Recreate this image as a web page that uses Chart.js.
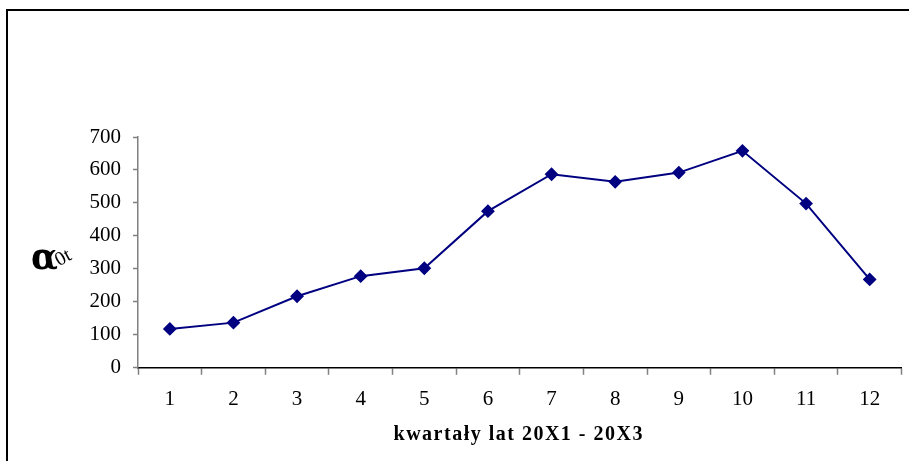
<!DOCTYPE html>
<html>
<head>
<meta charset="utf-8">
<script src="https://cdn.jsdelivr.net/npm/chart.js@4.4.1/dist/chart.umd.min.js"></script>
<style>
  html, body { margin: 0; padding: 0; background: #fff; }
  #wrap { position: relative; width: 909px; height: 461px; overflow: hidden; }
  #frame { position: absolute; left: 6px; top: 9px; width: 920px; height: 470px; border-left: 2px solid #000; border-top: 2px solid #000; }
  canvas { position: absolute; left: 0; top: 0; }
</style>
</head>
<body>
<div id="wrap">
  <div id="frame"></div>
  <canvas id="chart" width="909" height="461"></canvas>
</div>
<script>
// quarters and alpha values
const quarters = ['1','2','3','4','5','6','7','8','9','10','11','12'];
const alphaValues = [118, 137, 217, 278, 302, 475, 587, 564, 592, 658, 498, 268];
const yTicks = [0, 100, 200, 300, 400, 500, 600, 700];
const xTitle = 'kwartały lat 20X1 - 20X3';

const serif = '"Liberation Serif", "Times New Roman", serif';

// axis titles: alpha with subscript 0t, and the spaced-out x title
const axisTitles = {
    id: 'axisTitles',
    afterDraw(chart) {
        const ctx = chart.ctx;
        const y = chart.scales.y;
        const x = chart.scales.x;
        const cy = (y.top + y.bottom) / 2;
        ctx.save();
        ctx.fillStyle = '#000';
        ctx.textBaseline = 'alphabetic';
        ctx.font = 'bold 35px "DejaVu Serif", serif';
        ctx.fillText('α', 31, cy + 17);
        ctx.save();
        ctx.translate(59, cy + 14);
        ctx.rotate(-0.5);
        ctx.font = '20px ' + serif;
        ctx.fillText('0t', 0, 0);
        ctx.restore();

        ctx.font = 'bold 20px ' + serif;
        ctx.letterSpacing = '1.5px';
        ctx.textAlign = 'center';
        ctx.textBaseline = 'middle';
        ctx.fillText(xTitle, (x.left + x.right) / 2 - 1, 435);
        ctx.restore();
    }
};

new Chart(document.getElementById('chart'), {
    type: 'line',
    data: {
        labels: quarters,
        datasets: [{
            data: alphaValues,
            borderColor: '#000080',
            backgroundColor: '#000080',
            borderWidth: 2,
            pointStyle: 'rectRot',
            pointRadius: 5.5,
            pointHoverRadius: 5.5,
            tension: 0
        }]
    },
    options: {
        responsive: false,
        animation: false,
        layout: { padding: { left: 0, top: 137, right: 4, bottom: 37 } },
        plugins: { legend: { display: false }, tooltip: { enabled: false } },
        scales: {
            x: {
                offset: true,
                grid: { offset: true, drawOnChartArea: false, color: '#808080', tickLength: 7, tickWidth: 1.5 },
                border: { color: '#000', width: 1.5 },
                ticks: { color: '#000', font: { family: serif, size: 21 }, padding: 12 }
            },
            y: {
                min: 0, max: 700,
                afterBuildTicks(s) { s.ticks = yTicks.map(v => ({ value: v })); },
                afterFit(s) { s.width = 138; },
                grid: { drawOnChartArea: false, color: '#808080', tickLength: 5, tickWidth: 1.5 },
                border: { color: '#808080', width: 1.5 },
                ticks: { color: '#000', font: { family: serif, size: 21 }, padding: 12 }
            }
        }
    },
    plugins: [axisTitles]
});
</script>
</body>
</html>
